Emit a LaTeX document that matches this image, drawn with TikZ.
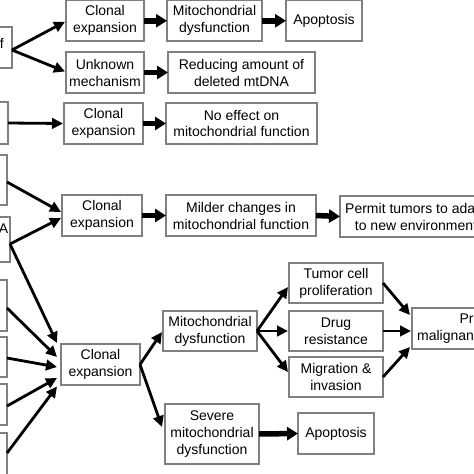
\documentclass[tikz,border=0pt]{standalone}
\usepackage{fontspec}
\setmainfont{Liberation Sans}
\usetikzlibrary{arrows.meta,calc}
\newcommand\mybox[6]{\node[box, minimum width={#4-#2}, minimum height={#5-#3}] (#1) at ({(#2+#4)/2},{(#3+#5)/2}) {#6};}
\begin{document}
\begin{tikzpicture}[x=1pt,y=-1pt,
  box/.style={draw=black!50, line width=1.1pt, fill=white, align=center, inner sep=0pt, outer sep=0pt, font=\fontsize{14}{17}\selectfont},
  thinarrow/.style={line width=2.8pt, -{Triangle[length=11pt,width=10.5pt]}},
  thickarrow/.style={line width=5.5pt, -{Triangle[length=11pt,width=13pt]}},
  lbl/.style={font=\fontsize{14}{17}\selectfont, inner sep=0pt}]
\useasboundingbox (0,0) rectangle (474,474);
\clip (0,0) rectangle (474,474);
% left (cropped) boxes
\mybox{l1}{-60}{27}{12}{68}{}
\node[lbl, anchor=base east] (l1t) at (4,48) {of};
\mybox{l2}{-60}{102}{8}{144}{}
\mybox{l3}{-60}{155}{7}{205}{}
\mybox{l4}{-60}{217}{10}{262}{}
\node[lbl, anchor=base east] (l4t) at (8.5,233) {mtDNA};
\mybox{l5}{-60}{280}{7}{331}{}
\mybox{l6}{-60}{337}{7}{377}{}
\mybox{l7}{-60}{384}{7}{425}{}
\mybox{l8}{-60}{433}{7}{490}{}
% main boxes
\mybox{c1}{66}{0.5}{144}{41}{Clonal\\expansion}
\mybox{m1}{167}{0.5}{262}{41}{Mitochondrial\\dysfunction}
\mybox{a1}{286}{0.5}{362}{41}{Apoptosis}
\mybox{u}{66}{52}{144}{93}{Unknown\\mechanism}
\mybox{r}{168}{52}{315}{93}{Reducing amount of\\deleted mtDNA}
\mybox{c2}{64}{103}{143}{144}{Clonal\\expansion}
\mybox{ne}{166}{103}{317}{144}{No effect on\\mitochondrial function}
\mybox{c3}{62}{195}{142}{236}{Clonal\\expansion}
\mybox{mc}{166}{195}{316}{236}{Milder changes in\\mitochondrial function}
\mybox{pt}{340}{196}{492}{237}{Permit tumors to adapt\\to new environment}
\mybox{c4}{61}{344}{140}{385}{Clonal\\expansion}
\mybox{m4}{163}{311}{257}{351}{Mitochondrial\\dysfunction}
\mybox{sv}{165}{404}{259}{464}{Severe\\mitochondrial\\dysfunction}
\mybox{a2}{298}{413}{374}{454}{Apoptosis}
\mybox{tc}{289}{263}{383}{303}{Tumor cell\\proliferation}
\mybox{dr}{289}{311}{383}{351}{Drug\\resistance}
\mybox{mi}{289}{357}{383}{397}{Migration \&\\invasion}
\mybox{pm}{412}{308}{560}{349}{Promote\\malignant progression}
% thin arrows
\draw[thinarrow] ($(l1.east)+(0,2.5)$) -- ($(c1.west)+(-1,1)$);
\draw[thinarrow] ($(l1.east)+(0,2.5)$) -- ($(u.west)+(-1,-1)$);
\draw[thinarrow] (l2.east) -- ($(c2.west)+(-1,0)$);
\draw[thinarrow] ($(l3.east)+(0,2)$) -- ($(c3.west)+(-1,-3.5)$);
\draw[thinarrow] ($(l4.east)+(0,4.5)$) -- ($(c3.west)+(-1,2.5)$);
\draw[thinarrow] ($(l4.east)+(0,4.5)$) -- ($(c4.north west)+(-4,-1)$);
\draw[thinarrow] ($(l5.east)+(0,2.5)$) -- ($(c4.west)+(-4,-7.5)$);
\draw[thinarrow] ($(l6.east)+(0,1)$) -- ($(c4.west)+(-4,2.5)$);
\draw[thinarrow] ($(l7.east)+(0,1.5)$) -- ($(c4.west)+(-4,13.5)$);
\draw[thinarrow] ($(l8.east)+(0,-8.5)$) -- ($(c4.west)+(-4,22)$);
\draw[thinarrow] (c4.east) -- ($(m4.west)+(-1,1)$);
\draw[thinarrow] (c4.east) -- ($(sv.west)+(-3,-7)$);
\draw[thinarrow] (m4.east) -- ($(tc.west)+(-1,4)$);
\draw[thinarrow] (m4.east) -- ($(dr.west)+(-1,0)$);
\draw[thinarrow] (m4.east) -- ($(mi.west)+(-1,-5)$);
\draw[thinarrow] (tc.east) -- ($(pm.west)+(-2,-13.5)$);
\draw[thinarrow] (dr.east) -- ($(pm.west)+(-1,2.5)$);
\draw[thinarrow] (mi.east) -- ($(pm.west)+(-2,18.5)$);
% thick arrows
\draw[thickarrow] (c1.east) -- (m1.west);
\draw[thickarrow] (m1.east) -- (a1.west);
\draw[thickarrow] (u.east) -- (r.west);
\draw[thickarrow] (c2.east) -- (ne.west);
\draw[thickarrow] (c3.east) -- (mc.west);
\draw[thickarrow] (mc.east) -- (pt.west);
\draw[thickarrow] (sv.east) -- (a2.west);
\end{tikzpicture}
\end{document}
